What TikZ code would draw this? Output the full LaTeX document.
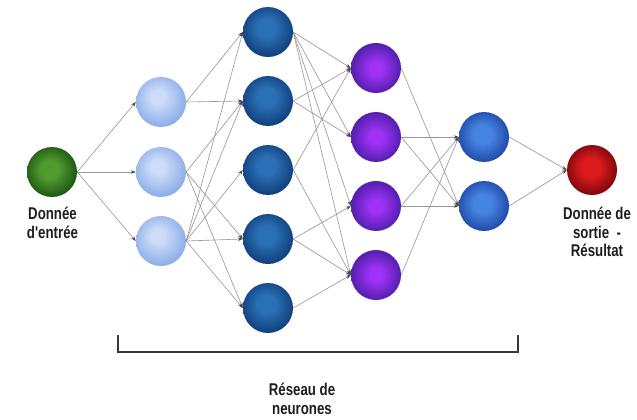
\documentclass[tikz,border=0pt]{standalone}
\usepackage{fontspec}
\setmainfont{Liberation Sans}
\newfontfamily\lblfont{Liberation Sans}[FakeStretch=0.78]
\usetikzlibrary{arrows.meta}
\definecolor{gIn}{RGB}{80,155,48}
\definecolor{gOut}{RGB}{28,85,18}
\definecolor{lbIn}{RGB}{205,220,248}
\definecolor{lbOut}{RGB}{138,172,232}
\definecolor{dbIn}{RGB}{42,112,182}
\definecolor{dbOut}{RGB}{14,58,118}
\definecolor{pIn}{RGB}{160,50,248}
\definecolor{pOut}{RGB}{80,30,170}
\definecolor{bIn}{RGB}{70,132,226}
\definecolor{bOut}{RGB}{32,72,168}
\definecolor{rIn}{RGB}{218,26,30}
\definecolor{rOut}{RGB}{120,6,10}
\definecolor{lineGray}{RGB}{150,150,150}
\definecolor{tipGray}{RGB}{70,70,70}
\definecolor{txt}{RGB}{30,30,30}
\definecolor{brk}{RGB}{55,55,55}
\pgfdeclareradialshading{shGreen}{\pgfpoint{-3bp}{3bp}}{color(0bp)=(gIn); color(9bp)=(gIn); color(27bp)=(gOut); color(50bp)=(gOut)}
\pgfdeclareradialshading{shLight}{\pgfpoint{-4bp}{6bp}}{color(0bp)=(lbIn); color(7bp)=(lbIn); color(28bp)=(lbOut); color(50bp)=(lbOut)}
\pgfdeclareradialshading{shDark}{\pgfpoint{-2bp}{5bp}}{color(0bp)=(dbIn); color(9bp)=(dbIn); color(29bp)=(dbOut); color(50bp)=(dbOut)}
\pgfdeclareradialshading{shPurple}{\pgfpoint{0bp}{0bp}}{color(0bp)=(pIn); color(6bp)=(pIn); color(26bp)=(pOut); color(50bp)=(pOut)}
\pgfdeclareradialshading{shBlue}{\pgfpoint{-2bp}{3bp}}{color(0bp)=(bIn); color(9bp)=(bIn); color(27bp)=(bOut); color(50bp)=(bOut)}
\pgfdeclareradialshading{shRed}{\pgfpoint{-2bp}{3bp}}{color(0bp)=(rIn); color(10bp)=(rIn); color(27bp)=(rOut); color(50bp)=(rOut)}
\tikzset{
  neuron/.style={circle, minimum size=50pt, inner sep=0pt},
  inpn/.style={neuron, shading=shGreen},
  lay1/.style={neuron, shading=shLight},
  lay2/.style={neuron, shading=shDark},
  lay3/.style={neuron, shading=shPurple},
  lay4/.style={neuron, shading=shBlue},
  outn/.style={neuron, shading=shRed},
  conn/.style={draw=lineGray, line width=0.6pt, -{Stealth[length=5pt,width=3.6pt,color=tipGray]}},
  lbl/.style={font=\lblfont\bfseries\fontsize{17}{18.5}\selectfont, align=center, text=txt, inner sep=0pt, anchor=north},
  bracketline/.style={draw=brk, line width=1.8pt}
}
\begin{document}
\begin{tikzpicture}[x=1pt,y=-1pt]
\useasboundingbox[fill=white] (0,0) rectangle (637,420);
% nodes
\node[inpn] (I) at (52,172) {};
\node[lay1] (A1) at (161,102) {};
\node[lay1] (A2) at (161,172) {};
\node[lay1] (A3) at (161,241) {};
\node[lay2] (B1) at (268,32) {};
\node[lay2] (B2) at (268,101) {};
\node[lay2] (B3) at (268,170) {};
\node[lay2] (B4) at (268,239) {};
\node[lay2] (B5) at (268,308) {};
\node[lay3] (C1) at (376,68) {};
\node[lay3] (C2) at (376,137) {};
\node[lay3] (C3) at (376,206) {};
\node[lay3] (C4) at (376,275) {};
\node[lay4] (D1) at (484,137) {};
\node[lay4] (D2) at (484,206) {};
\node[outn] (O) at (592,170) {};
% connectors
\foreach \t in {A1,A2,A3} \draw[conn] (I.east) -- (\t.west);
\foreach \s/\t in {A1/B1,A1/B2,A2/B2,A2/B4,A2/B5,A3/B1,A3/B2,A3/B3,A3/B4,A3/B5}
  \draw[conn] (\s.east) -- (\t.west);
\foreach \s/\t in {B1/C1,B1/C2,B1/C3,B1/C4,B2/C1,B2/C2,B3/C1,B3/C4,B4/C3,B4/C4,B5/C4}
  \draw[conn] (\s.east) -- (\t.west);
\foreach \s/\t in {C1/D2,C2/D1,C2/D2,C3/D1,C3/D2,C4/D1}
  \draw[conn] (\s.east) -- (\t.west);
\foreach \s in {D1,D2} \draw[conn] (\s.east) -- (O.west);
% labels
\node[lbl] (Lin) at (52.5,207) {Donnée\\d'entrée};
\node[lbl] (Lout) at (597,207) {Donnée de\\sortie \ -\\Résultat};
% bracket
\coordinate (bl) at (118,335);
\coordinate (br) at (518,335);
\draw[bracketline] (bl) -- ++(0,17) -| (br);
\node[lbl] (Lnet) at (302,383) {Réseau de\\neurones};
\end{tikzpicture}
\end{document}
